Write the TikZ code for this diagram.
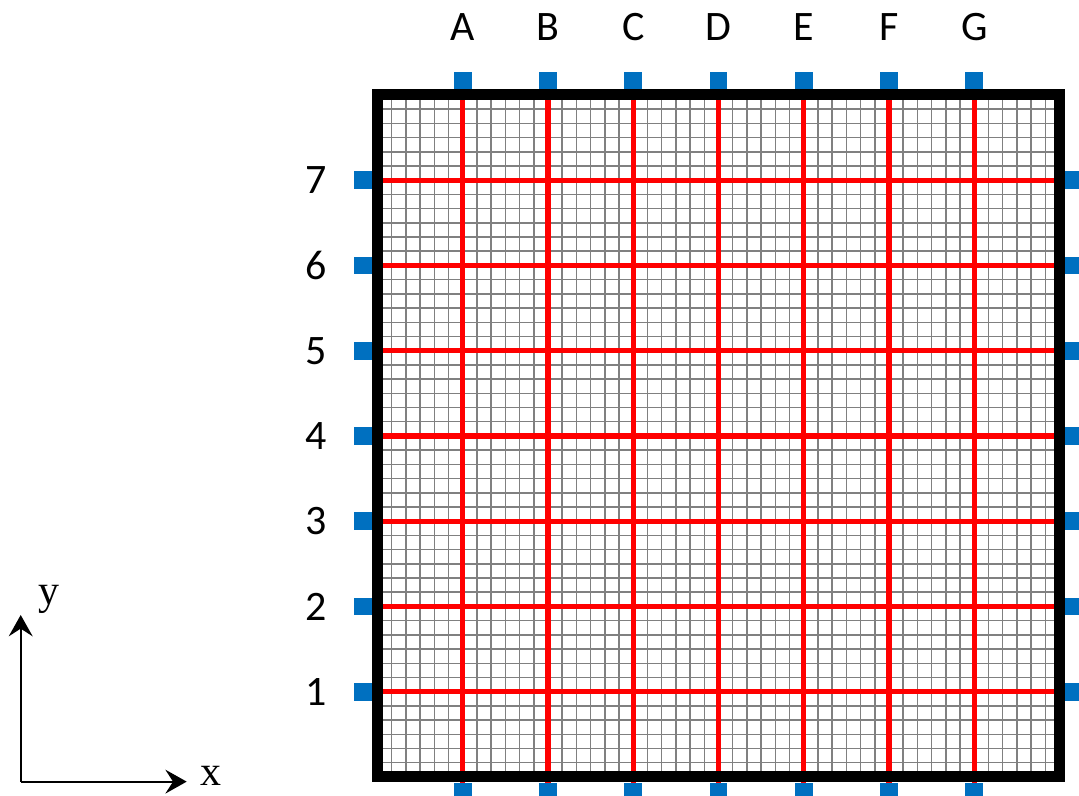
\documentclass[tikz,border=0pt]{standalone}
\usepackage{fontspec}
\setmainfont{Carlito}
\newfontfamily\axisfont{Liberation Serif}
\usetikzlibrary{arrows.meta}
\definecolor{portblue}{RGB}{0,112,192}

\begin{document}
\begin{tikzpicture}[x=1cm,y=1cm]
	\useasboundingbox (-4.428,-0.223) rectangle (8.229,9.114);
	% fine mesh
	\draw[black!50, line width=0.5pt, step=0.1666667] (0,0) grid (8,8);
	% coarse lines
	\foreach \x in {1,...,7}
	\draw[red, line width=1.7pt] (\x,-0.1) -- (\x,8.1);
	\foreach \y in {1,...,7}
	\draw[red, line width=1.7pt] (-0.1,\y) -- (8.1,\y);
	% ports
	\foreach \x in {1,...,7}
	\fill[portblue] (\x-0.105,8.065) rectangle ++(0.21,0.21);
	\foreach \x in {1,...,7}
	\fill[portblue] (\x-0.105,-0.065) rectangle ++(0.21,-0.21);
	\foreach \y in {1,...,7}
	\fill[portblue] (-0.065,\y-0.105) rectangle ++(-0.21,0.21);
	\foreach \y in {1,...,7}
	\fill[portblue] (8.065,\y-0.105) rectangle ++(0.21,0.21);
	% frame
	\draw[line width=3.66pt] (0,0) rectangle (8,8);
	% labels
	\foreach \l [count=\x] in {A,B,C,D,E,F,G}
	\node[anchor=base, font=\fontsize{14}{16}\selectfont] (col\l) at (\x,8.633) {\l};
	\foreach \y in {1,...,7}
	\node[font=\fontsize{14}{16}\selectfont] (row\y) at (-0.716,\y) {\y};
	% axes
	\coordinate (o) at (-4.185,-0.055);
	\coordinate (xend) at (-2.238,-0.055);
	\coordinate (yend) at (-4.185,1.90);
	\draw[line width=0.7pt, -{Stealth[length=0.25cm, width=0.28cm, inset=0.09cm]}] (o) -- (xend);
	\draw[line width=0.7pt, -{Stealth[length=0.25cm, width=0.28cm, inset=0.09cm]}] (o) -- (yend);
	\node[anchor=base, font=\axisfont\fontsize{14}{16}\selectfont] (xlab) at (-1.953,-0.106) {x};
	\node[anchor=base, font=\axisfont\fontsize{14}{16}\selectfont] (ylab) at (-3.853,2.018) {y};
\end{tikzpicture}
\end{document}
